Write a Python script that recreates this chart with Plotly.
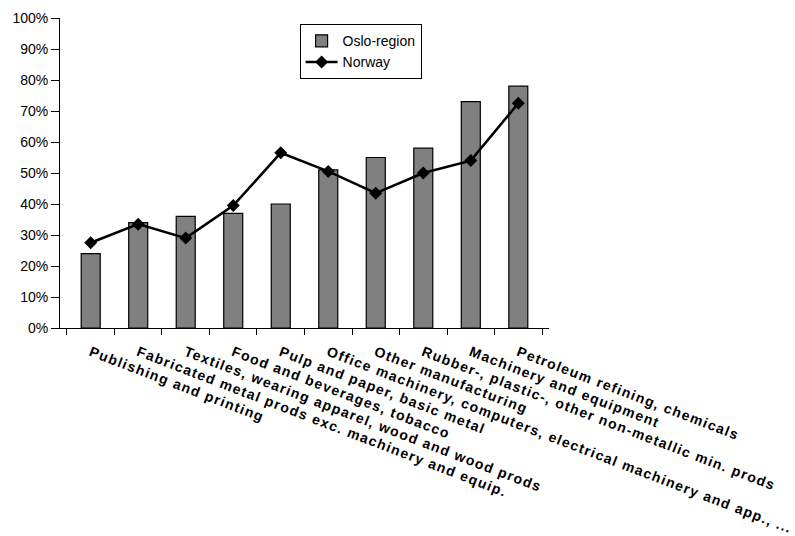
import plotly.graph_objects as go

industries = [
    "Publishing and printing",
    "Fabricated metal prods exc. machinery and equip.",
    "Textiles, wearing apparel, wood and wood prods",
    "Food and beverages, tobacco",
    "Pulp and paper, basic metal",
    "Office machinery, computers, electrical machinery and app., ...",
    "Other manufacturing",
    "Rubber-, plastic-, other non-metallic min. prods",
    "Machinery and equipment",
    "Petroleum refining, chemicals",
]
oslo_region = [0.24, 0.34, 0.36, 0.37, 0.40, 0.51, 0.55, 0.58, 0.73, 0.78]
norway = [0.275, 0.335, 0.29, 0.395, 0.565, 0.505, 0.435, 0.50, 0.54, 0.725]

fig = go.Figure()
fig.add_trace(go.Bar(
    x=industries, y=oslo_region, name="Oslo-region",
    width=0.4,
    marker=dict(color="#808080", line=dict(color="black", width=1.2)),
))
fig.add_trace(go.Scatter(
    x=industries, y=norway, name="Norway", mode="lines+markers",
    line=dict(color="black", width=2.5),
    marker=dict(symbol="diamond", size=10, color="black"),
))

fig.update_layout(
    width=795, height=536,
    margin=dict(l=60, r=246, t=18, b=208),
    paper_bgcolor="white", plot_bgcolor="white",
    font=dict(family="Liberation Sans, Arial, sans-serif", size=14, color="black"),
    showlegend=True,
    legend=dict(
        x=0.49, y=0.98, xanchor="left", yanchor="top",
        bordercolor="black", borderwidth=1, bgcolor="white",
        font=dict(size=14), tracegroupgap=0, itemwidth=32,
    ),
    bargap=0.6,
)
fig.update_xaxes(
    type="category", tickangle=21, tickson="boundaries",
    ticks="outside", ticklen=6, tickcolor="black",
    showline=True, linecolor="black", linewidth=1,
    showgrid=False, automargin=False, ticklabelstandoff=10,
    tickfont=dict(size=14, family="Liberation Sans, Arial, sans-serif", weight="bold"),
)
fig.update_yaxes(
    range=[0, 1], dtick=0.1, tickformat=".0%",
    ticks="outside", ticklen=8, tickcolor="black",
    showline=True, linecolor="black", linewidth=1,
    showgrid=False, zeroline=False, automargin=False,
    tickfont=dict(size=14),
)

# Widen the letter spacing of the rotated category labels
spacing_js = """
var gd = document.getElementById('{plot_id}');
function spaceLabels() {
  gd.querySelectorAll('.xtick text').forEach(function (t) {
    t.style.letterSpacing = '1.3px';
  });
}
spaceLabels();
gd.on('plotly_afterplot', spaceLabels);
"""

fig.write_html("out.html", post_script=spacing_js)
